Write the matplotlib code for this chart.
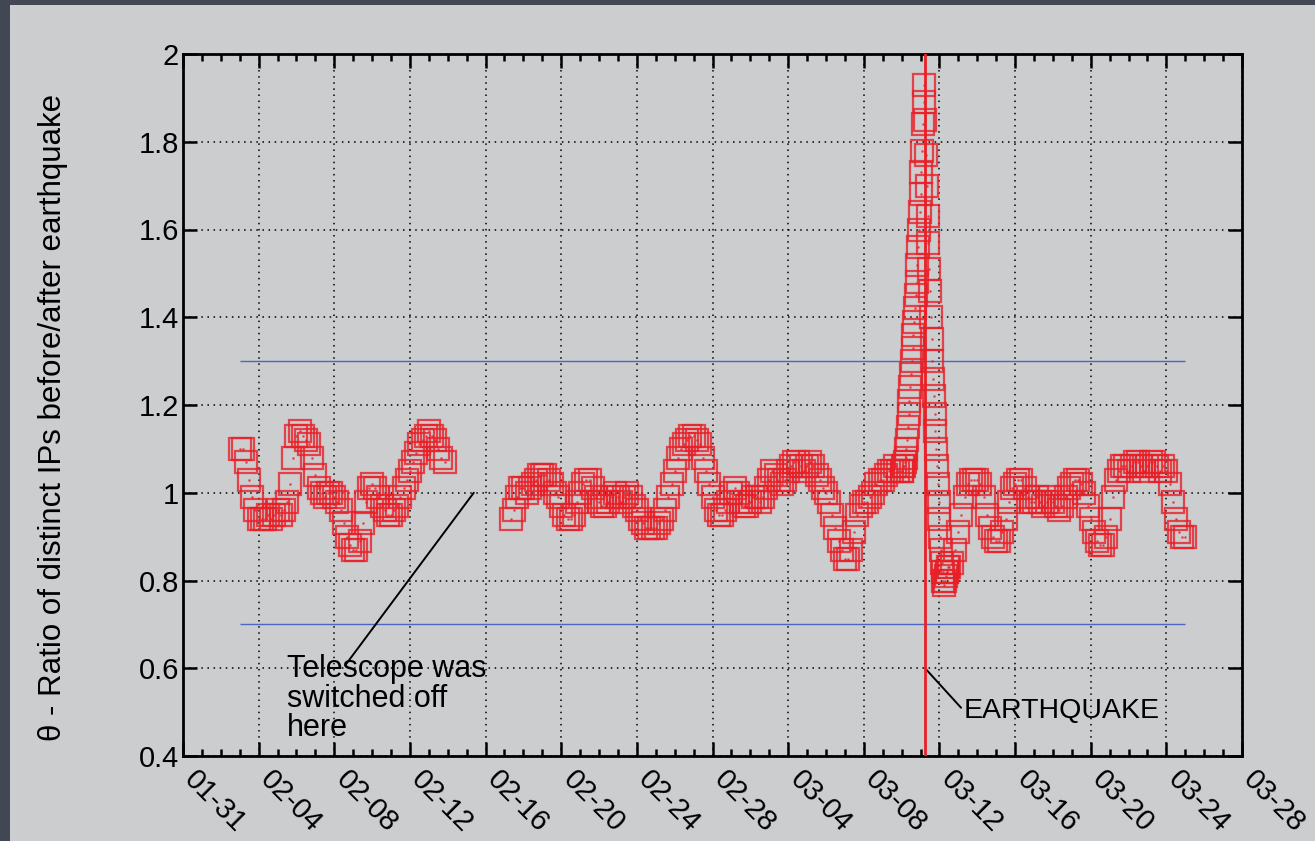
import numpy as np
import pandas as pd
import matplotlib
matplotlib.use('Agg')
import matplotlib.pyplot as plt
import matplotlib.dates as mdates
from matplotlib.patches import Rectangle
from matplotlib.ticker import FixedLocator, FuncFormatter
from matplotlib.transforms import ScaledTranslation

plt.rcParams['font.family'] = ['Liberation Sans', 'DejaVu Sans']

# ratio values (4-hourly, hourly around the spike)
seg1_start = '2011-02-03 00:00'
seg1_step = '4h'
seg1_vals = [
    1.10, 1.10, 1.07, 1.03, 0.99, 0.96,   # 02-03
    0.94, 0.94, 0.94, 0.95, 0.94, 0.95,   # 02-04
    0.96, 0.95, 0.96, 0.98, 1.02, 1.08,   # 02-05
    1.13, 1.14, 1.13, 1.12, 1.11, 1.08,   # 02-06
    1.04, 1.01, 1.00, 0.99, 1.00, 1.00,   # 02-07
    0.99, 0.98, 0.96, 0.93, 0.90, 0.88,   # 02-08
    0.87, 0.87, 0.89, 0.93, 0.98, 1.01,   # 02-09
    1.02, 1.01, 0.99, 0.97, 0.96, 0.95,   # 02-10
    0.95, 0.96, 0.97, 0.99, 1.01, 1.03,   # 02-11
    1.05, 1.07, 1.09, 1.11, 1.12, 1.13,   # 02-12
    1.14, 1.13, 1.12, 1.10, 1.08, 1.07,   # 02-13
]

seg2_start = '2011-02-17 08:00'
seg2_step = '4h'
seg2_vals = [
    0.94, 0.96, 0.99, 1.01,               # 02-17
    1.01, 1.00, 1.01, 1.02, 1.03, 1.04,   # 02-18
    1.04, 1.04, 1.03, 1.02, 1.00, 0.99,   # 02-19
    0.97, 0.95, 0.94, 0.94, 0.95, 0.98,   # 02-20
    1.00, 1.02, 1.03, 1.03, 1.01, 0.99,   # 02-21
    0.98, 0.97, 0.97, 0.98, 0.99, 1.00,   # 02-22
    0.99, 0.98, 0.99, 1.00, 0.99, 0.97,   # 02-23
    0.96, 0.94, 0.93, 0.92, 0.92, 0.92,   # 02-24
    0.92, 0.93, 0.94, 0.96, 0.99, 1.02,   # 02-25
    1.05, 1.08, 1.10, 1.11, 1.12, 1.13,   # 02-26
    1.13, 1.12, 1.11, 1.08, 1.05, 1.02,   # 02-27
    0.99, 0.96, 0.95, 0.95, 0.96, 0.98,   # 02-28
    1.00, 1.01, 1.00, 0.98, 0.97, 0.97,   # 03-01
    0.98, 0.99, 0.99, 0.98, 0.99, 1.01,   # 03-02
    1.03, 1.05, 1.04, 1.03, 1.02, 1.03,   # 03-03
    1.05, 1.06, 1.07, 1.07, 1.06, 1.05,   # 03-04
    1.06, 1.07, 1.06, 1.04, 1.03, 1.01,   # 03-05
    1.00, 0.98, 0.95, 0.92, 0.89, 0.87,   # 03-06
    0.85, 0.85, 0.87, 0.91, 0.95, 0.97,   # 03-07
    0.98, 0.98, 0.99, 1.00, 1.02, 1.03,   # 03-08
    1.03, 1.04, 1.05, 1.05, 1.06, 1.05,   # 03-09
]

spike_start = '2011-03-10 00:00'
spike_step = '1h'
spike_vals = [
    1.05, 1.05, 1.06, 1.06, 1.07, 1.08, 1.10, 1.12, 1.15, 1.18, 1.21, 1.24,
    1.27, 1.30, 1.33, 1.36, 1.39, 1.42, 1.45, 1.48, 1.52, 1.56, 1.60, 1.64,   # 03-10
    1.68, 1.73, 1.78, 1.84, 1.89, 1.93, 1.85, 1.77, 1.70, 1.63, 1.57, 1.51,
    1.46, 1.40, 1.35, 1.30, 1.26, 1.22, 1.18, 1.14, 1.10, 1.06, 1.02, 0.98,   # 03-11
    0.94, 0.90, 0.87, 0.84, 0.82, 0.80, 0.79, 0.80, 0.81, 0.82, 0.82, 0.83,   # 03-12
]

seg3_start = '2011-03-12 12:00'
seg3_step = '4h'
seg3_vals = [
    0.83, 0.84, 0.87,                     # 03-12
    0.91, 0.95, 0.99, 1.02, 1.03, 1.03,   # 03-13
    1.03, 1.02, 0.99, 0.95, 0.92, 0.90,   # 03-14
    0.89, 0.89, 0.91, 0.94, 0.98, 1.01,   # 03-15
    1.02, 1.03, 1.03, 1.01, 0.99, 0.98,   # 03-16
    0.98, 0.99, 0.98, 0.97, 0.98, 0.99,   # 03-17
    0.98, 0.97, 0.96, 0.97, 0.99, 1.01,   # 03-18
    1.02, 1.03, 1.03, 1.02, 1.00, 0.97,   # 03-19
    0.94, 0.91, 0.89, 0.88, 0.88, 0.90,   # 03-20
    0.94, 0.99, 1.03, 1.05, 1.06, 1.06,   # 03-21
    1.05, 1.06, 1.07, 1.07, 1.06, 1.05,   # 03-22
    1.06, 1.07, 1.07, 1.06, 1.05, 1.06,   # 03-23
    1.05, 1.02, 0.98, 0.94, 0.91, 0.90,   # 03-24
    0.90,                                 # 03-25
]

quake_time = '2011-03-11 05:46'
thresholds = [1.3, 0.7]
x_start, x_end = '2011-01-31', '2011-03-28'
y_ticks = [0.4, 0.6, 0.8, 1.0, 1.2, 1.4, 1.6, 1.8, 2.0]


def series(start, step, vals):
    return pd.date_range(start, periods=len(vals), freq=step), np.array(vals)


segments = [series(seg1_start, seg1_step, seg1_vals),
            series(seg2_start, seg2_step, seg2_vals),
            series(spike_start, spike_step, spike_vals),
            series(seg3_start, seg3_step, seg3_vals)]

fig = plt.figure(figsize=(13.15, 8.41), dpi=100)
fig.patch.set_facecolor('#414753')
panel = Rectangle((10 / 1315, 0), 1, 1 - 5 / 841, transform=fig.transFigure,
                  facecolor='#cbcdcf', edgecolor='none', zorder=-10)
fig.add_artist(panel)

ax = fig.add_axes([183 / 1315, 85 / 841, 1059 / 1315, 702 / 841])
ax.set_zorder(1)
ax.set_facecolor('#cbcdcf')
ax.set_axisbelow(True)

red = '#ea1f27'
for t, v in segments:
    ax.plot(t, v, linestyle='none', marker='s', markersize=15.5, mfc='none',
            mec=red, mew=1.6, alpha=0.8, zorder=3)
    ax.plot(t, v, linestyle='none', marker='.', markersize=2, color=red, alpha=0.6, zorder=3)

t_first = segments[0][0][0]
t_last = segments[-1][0][-1]
ax.hlines(thresholds, t_first, t_last, color='#5066c4', lw=1, zorder=2)
quake = pd.Timestamp(quake_time)
ax.axvline(quake, color=red, lw=2, zorder=4)

ax.set_xlim(pd.Timestamp(x_start), pd.Timestamp(x_end))
ax.set_ylim(0.4, 2.0)

major_days = pd.date_range(x_start, x_end, freq='4D')
ax.xaxis.set_major_locator(FixedLocator(mdates.date2num(major_days)))
ax.xaxis.set_minor_locator(mdates.DayLocator())
ax.xaxis.set_major_formatter(mdates.DateFormatter('%m-%d'))
ax.yaxis.set_major_locator(FixedLocator(y_ticks))
ax.yaxis.set_major_formatter(FuncFormatter(lambda v, p: '%g' % v))

ax.grid(True, which='major', color='black', linestyle=(0, (1, 3)), linewidth=1.1)
for s in ax.spines.values():
    s.set_linewidth(2)
ax.tick_params(which='both', direction='in', top=True, right=True, width=1.8, colors='black')
ax.tick_params(which='major', length=10, labelsize=21)
ax.tick_params(axis='x', labelsize=21)
ax.tick_params(which='minor', length=5)
ax.tick_params(axis='y', pad=3)
ax.tick_params(axis='x', pad=14)
shift = ScaledTranslation(6 / 100, 0, fig.dpi_scale_trans)
for lab in ax.get_xticklabels():
    lab.set_rotation(-45)
    lab.set_ha('left')
    lab.set_va('center')
    lab.set_rotation_mode('anchor')
    lab.set_transform(lab.get_transform() + shift)

ax.set_ylabel('θ - Ratio of distinct IPs before/after earthquake', fontsize=22.5)
ax.yaxis.set_label_coords(-0.109, 0.482)

# telescope note: leader line runs into the first text line
ax.text(pd.Timestamp('2011-02-05 12:00'), 0.632, 'Telescope was\nswitched off\nhere',
        ha='left', va='top', fontsize=22, linespacing=0.97, zorder=5)
ax.annotate('', xy=(pd.Timestamp('2011-02-15 09:00'), 1.0),
            xytext=(pd.Timestamp('2011-02-08 14:00'), 0.607), textcoords='data',
            arrowprops=dict(arrowstyle='-', color='black', lw=1.4, shrinkA=0, shrinkB=0))
ax.annotate('EARTHQUAKE', xy=(quake, 0.6),
            xytext=(pd.Timestamp('2011-03-13 07:00'), 0.503), textcoords='data',
            ha='left', va='center', fontsize=20.5,
            arrowprops=dict(arrowstyle='-', color='black', lw=1.4, shrinkA=0, shrinkB=0,
                            relpos=(0, 0.5)))

fig.savefig('out.png', dpi=100, facecolor=fig.get_facecolor())
